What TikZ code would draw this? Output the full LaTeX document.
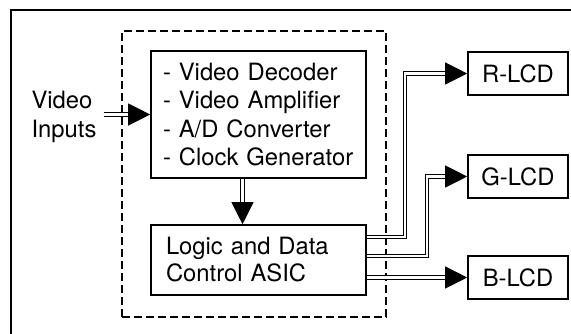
\documentclass[tikz,border=0pt]{standalone}
\usepackage{fontspec}
\setmainfont{TeX Gyre Heros}
\usetikzlibrary{arrows.meta,positioning,calc}

\begin{document}
\begin{tikzpicture}[x=0.5pt,y=-0.5pt,
  font=\fontsize{11.9}{14.25}\selectfont,
  group/.style={draw,dashed,dash pattern=on 4pt off 2pt,line width=0.8pt,
    minimum width=132pt,minimum height=143pt},
  block/.style={draw,line width=0.8pt,minimum width=107.5pt,inner xsep=6pt,
    text width=95.5pt,align=left},
  lcd/.style={draw,line width=0.8pt,minimum width=50pt,minimum height=21.5pt,inner sep=0pt},
  bus/.style={postaction={draw,line width=0.5pt,-{Triangle[length=11pt,width=11pt]}},
    postaction={draw,double,double distance=1.3pt,line width=0.5pt,shorten >=11pt}}
]
  \useasboundingbox (0,0) rectangle (571,333);
  % Outer frame
  \draw[line width=1pt] (11,10) rectangle (640,380);
  % Dashed ASIC group
  \node[group] (grp) at (254,174) {};
  \node[block,minimum height=63.5pt] (proc) at (258.5,114.5)
    {- Video Decoder\\- Video Amplifier\\- A/D Converter\\- Clock Generator};
  \node[block,minimum height=35pt,inner xsep=7.5pt,text width=92.5pt,
    font=\fontsize{11.9}{13.5}\selectfont] (asic) at (258.5,260)
    {Logic and Data\\Control ASIC};
  \node[align=left] (vin) at (64,117) {Video\\Inputs};
  \foreach \c/\y in {R/73.5,G/176.5,B/277.5}
    \node[lcd] (\c lcd) at (518,\y) {\c-LCD};
  % Bus bends
  \coordinate (rturn) at (405,0);
  \coordinate (gturn) at (427,0);
  % Arrows
  \path[bus] (vin.east |- proc.west) -- (proc.west);
  \path[bus] ([xshift=-8pt]proc.south) -- ([xshift=-8pt]proc.south |- asic.north);
  \path[bus] ([yshift=11.5pt]asic.east) -| (rturn |- Rlcd.west) -- (Rlcd.west);
  \path[bus] ([yshift=2pt]asic.east) -| (gturn |- Glcd.west) -- (Glcd.west);
  \path[bus] (Blcd.west -| asic.east) -- (Blcd.west);
\end{tikzpicture}
\end{document}
